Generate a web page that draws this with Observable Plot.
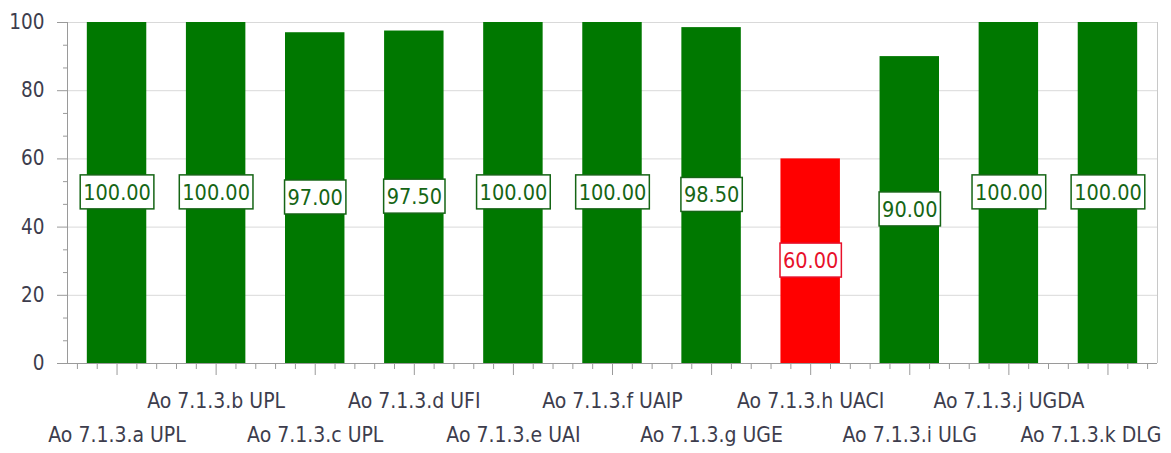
<!DOCTYPE html>
<html><head><meta charset="utf-8">
<script src="https://cdn.jsdelivr.net/npm/d3@7"></script>
<script src="https://cdn.jsdelivr.net/npm/@observablehq/plot@0.6"></script>
<style>body{margin:0;background:#fff}</style>
</head><body><div id="chart"></div>
<script>
const categories = ["Ao 7.1.3.a UPL","Ao 7.1.3.b UPL","Ao 7.1.3.c UPL","Ao 7.1.3.d UFI","Ao 7.1.3.e UAI","Ao 7.1.3.f UAIP","Ao 7.1.3.g UGE","Ao 7.1.3.h UACI","Ao 7.1.3.i ULG","Ao 7.1.3.j UGDA","Ao 7.1.3.k DLG"];
const values = [100, 100, 97, 97.5, 100, 100, 98.5, 60, 90, 100, 100];
const statuses = ["ok","ok","ok","ok","ok","ok","ok","low","ok","ok","ok"];
const yTicks = [0, 20, 40, 60, 80, 100];

const barColor = {ok: "#007800", low: "#ff0000"};
const labelColor = {ok: "#156515", low: "#e8102a"};
const data = categories.map((c, i) => ({i, c, v: values[i], s: statuses[i]}));
const idx = d3.range(categories.length);
const last = categories.length - 1;
const lowerRow = idx.filter(i => i % 2 === 0 && i !== last);
const upperRow = idx.filter(i => i % 2 === 1);
const minorX = idx.flatMap(i => [-0.4, -0.2, 0.2, 0.4].map(o => i + o));
const minorY = d3.range(0, 100.001, 20 / 3).filter(t => Math.abs(t / 20 - Math.round(t / 20)) > 1e-6);
const textColor = "#3d3d4d";
const font = "'DejaVu Sans Condensed', 'DejaVu Sans', sans-serif";

const svg = Plot.plot({
  width: 1171, height: 453,
  marginLeft: 67, marginRight: 14, marginTop: 22, marginBottom: 90,
  style: {fontFamily: font, fontSize: "21px", background: "#fff", overflow: "visible"},
  x: {domain: [-0.5, categories.length - 0.5], axis: null},
  y: {domain: [0, 100], axis: null},
  marks: [
    Plot.gridY(yTicks.filter(t => t > 0), {stroke: "#d9d9d9", strokeOpacity: 1}),
    Plot.rectY(data, {x1: d => d.i - 0.3, x2: d => d.i + 0.3, y: "v", fill: d => barColor[d.s]}),
    Plot.ruleX([-0.5], {stroke: "#9a9a9a"}),
    Plot.ruleX([categories.length - 0.5], {stroke: "#c8c8c8"}),
    Plot.ruleY([0], {stroke: "#9a9a9a"}),
    // y axis ticks
    Plot.axisY(yTicks, {tickSize: 10, stroke: "#9a9a9a", fill: "none", label: null}),
    Plot.axisY(minorY, {tickSize: 4, stroke: "#9a9a9a", fill: "none", label: null}),
    Plot.axisY(yTicks, {tickSize: 0, tickPadding: 23, fill: textColor, fontSize: 20.5, label: null}),
    // x axis ticks
    Plot.axisX(idx, {tickSize: 12, stroke: "#9a9a9a", fill: "none", label: null}),
    Plot.axisX(minorX, {tickSize: 6, stroke: "#9a9a9a", fill: "none", label: null}),
    Plot.axisX(upperRow, {tickSize: 0, tickPadding: 30, tickFormat: i => categories[i], fill: textColor, fontSize: 21, label: null}),
    Plot.axisX(lowerRow, {tickSize: 0, tickPadding: 64, tickFormat: i => categories[i], fill: textColor, fontSize: 21, label: null}),
    Plot.axisX([last], {tickSize: 0, tickPadding: 64, dx: -17, tickFormat: i => categories[i], fill: textColor, fontSize: 21, label: null}),
    // value labels
    Plot.text(data, {x: "i", y: d => d.v / 2, text: d => d.v.toFixed(2), fill: d => labelColor[d.s], fontSize: 21.5})
  ]
});
document.getElementById("chart").appendChild(svg);

// white boxes with coloured border behind value labels
const ns = "http://www.w3.org/2000/svg";
svg.querySelectorAll('g[aria-label="text"] text').forEach(t => {
  const b = t.getBBox();
  const r = document.createElementNS(ns, "rect");
  r.setAttribute("x", b.x - 3);
  r.setAttribute("y", b.y - 5);
  r.setAttribute("width", b.width + 6);
  r.setAttribute("height", b.height + 9);
  const tr = t.getAttribute("transform");
  if (tr) r.setAttribute("transform", tr);
  r.setAttribute("fill", "#fff");
  r.setAttribute("stroke", t.getAttribute("fill") || t.parentNode.getAttribute("fill"));
  r.setAttribute("stroke-width", "1.5");
  t.parentNode.insertBefore(r, t);
});
</script>
</body></html>
